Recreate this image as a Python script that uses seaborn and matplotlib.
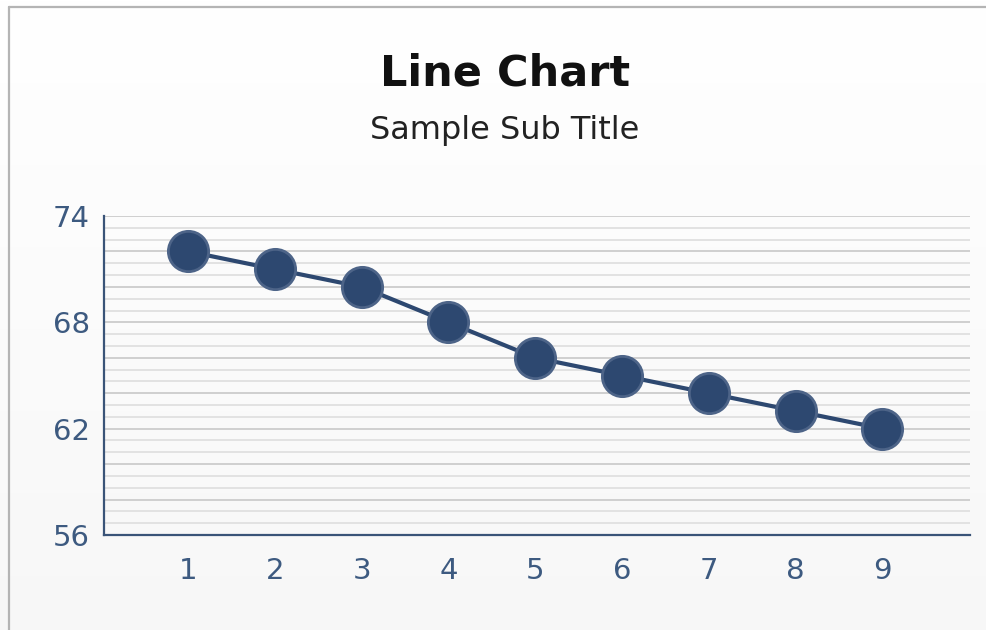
import numpy as np
import pandas as pd
import matplotlib
matplotlib.use("Agg")
import matplotlib.pyplot as plt
from matplotlib.ticker import FixedLocator, FuncFormatter
from matplotlib.lines import Line2D
import seaborn as sns

# ---- data ----
categories = [1, 2, 3, 4, 5, 6, 7, 8, 9]
values = [72, 71, 70, 68, 66, 65, 64, 63, 62]
y_tick_labels = [56, 62, 68, 74]
title = "Line Chart"
subtitle = "Sample Sub Title"

df = pd.DataFrame({"x": categories, "y": values})

sns.set_style("white")
plt.rcParams["font.family"] = ["DejaVu Sans"]

fig = plt.figure(figsize=(9.86, 6.30), dpi=100)

# background gradient
bg = fig.add_axes([0, 0, 1, 1], zorder=-10)
grad = np.linspace(1.0, 0.97, 256).reshape(-1, 1)
bg.imshow(np.dstack([grad, grad, grad]), aspect="auto", extent=[0, 1, 0, 1])
bg.set_axis_off()

# frame lines (top and left)
fig.add_artist(Line2D([9 / 986, 1.0], [1 - 7 / 630, 1 - 7 / 630], transform=fig.transFigure,
                      color="#b4b4b4", linewidth=1.6))
fig.add_artist(Line2D([9 / 986, 9 / 986], [0, 1 - 7 / 630], transform=fig.transFigure,
                      color="#b4b4b4", linewidth=1.6))

ax = fig.add_axes([104 / 986, 1 - 535 / 630, (970 - 104) / 986, (535 - 216) / 630])
ax.set_facecolor("none")

sns.lineplot(data=df, x="x", y="y", ax=ax, color="#2d4870", linewidth=3.0,
             marker="o", markersize=29, markerfacecolor="#2d4870",
             markeredgecolor="#4d6488", markeredgewidth=2.0, zorder=5)

ax.set_xlim(0.03, 10.01)
ax.set_ylim(min(y_tick_labels), max(y_tick_labels))
ax.set_xticks(categories)
ax.set_xticklabels([str(c) for c in categories])

ymin, ymax = min(y_tick_labels), max(y_tick_labels)
ax.yaxis.set_major_locator(FixedLocator(np.arange(ymin, ymax + 0.01, 2)))
ax.yaxis.set_major_formatter(FuncFormatter(lambda v, p: f"{int(round(v))}" if int(round(v)) in y_tick_labels else ""))
ax.yaxis.set_minor_locator(FixedLocator(np.arange(ymin, ymax + 0.01, 2 / 3)))

ax.grid(False)
ax.yaxis.grid(True, which="minor", color="#e2e2e2", linewidth=1.4)
ax.yaxis.grid(True, which="major", color="#cfcfcf", linewidth=1.4)
ax.set_axisbelow(True)

for s in ["top", "right"]:
    ax.spines[s].set_visible(False)
for s in ["left", "bottom"]:
    ax.spines[s].set_color("#3a5478")
    ax.spines[s].set_linewidth(1.6)

ax.tick_params(axis="y", which="both", length=0, pad=10, labelsize=21, labelcolor="#3d5a80")
ax.tick_params(axis="x", which="both", length=0, pad=16, labelsize=21, labelcolor="#3d5a80")
ax.set_xlabel("")
ax.set_ylabel("")

fig.text(505 / 986, 1 - 73 / 630, title, ha="center", va="center", fontsize=31,
         fontweight="bold", color="#111111")
fig.text(505 / 986, 1 - 131 / 630, subtitle, ha="center", va="center", fontsize=23,
         color="#222222")

fig.savefig("out.png", dpi=100)
